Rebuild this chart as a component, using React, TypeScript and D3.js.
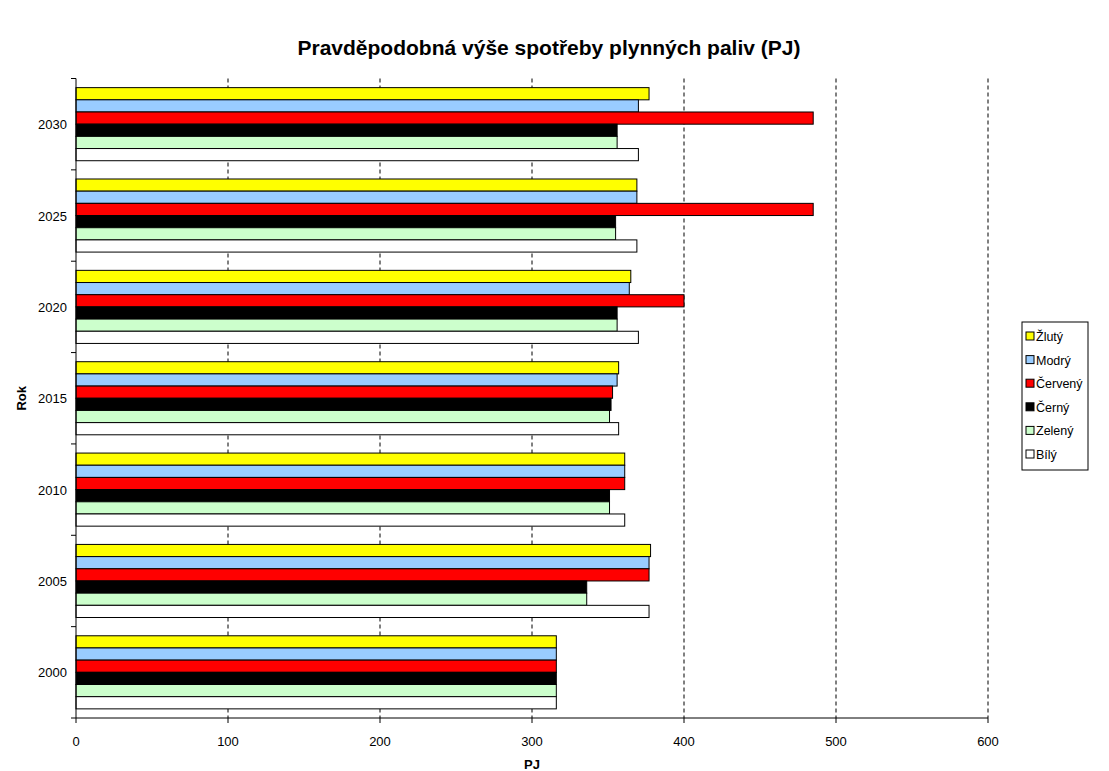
import React from 'react';
import * as d3 from 'd3';

const years = ['2000', '2005', '2010', '2015', '2020', '2025', '2030'];
const seriesNames = ['Žlutý', 'Modrý', 'Červený', 'Černý', 'Zelený', 'Bílý'];
const seriesColors = ['#ffff00', '#99ccff', '#ff0000', '#000000', '#ccffcc', '#ffffff'];

// values per series, one per year (2000 .. 2030)
const zluty = [316, 378, 361, 357, 365, 369, 377];
const modry = [316, 377, 361, 356, 364, 369, 370];
const cerveny = [316, 377, 361, 353, 400, 485, 485];
const cerny = [316, 336, 351, 352, 356, 355, 356];
const zeleny = [316, 336, 351, 351, 356, 355, 356];
const bily = [316, 377, 361, 357, 370, 369, 370];

const xTicks = [0, 100, 200, 300, 400, 500, 600];

const W = 1109;
const H = 771;
const font = '"Liberation Sans", Arial, sans-serif';

const App: React.FC = () => {
  const seriesValues = [zluty, modry, cerveny, cerny, zeleny, bily];

  const plotLeft = 76;
  const plotRight = 988;
  const plotTop = 78.5;
  const plotBottom = 718;

  const x = d3.scaleLinear().domain([0, 600]).range([plotLeft, plotRight]);

  // 2000 at the bottom, 2030 on top
  const y = d3.scaleBand<string>()
    .domain([...years].reverse())
    .range([plotTop, plotBottom])
    .paddingInner(0)
    .paddingOuter(0);

  const bandH = y.bandwidth();
  const barH = bandH / 7.5;
  const groupPad = (bandH - barH * 6) / 2;

  const boundaries = d3.range(years.length + 1).map(i => plotTop + i * bandH);

  const legendX = 1022;
  const legendY = 322;
  const legendStep = 23.6;

  return (
    <svg width={W} height={H} style={{ position: 'absolute', left: 0, top: 0, background: '#fff' }}
      fontFamily={font}>
      <text x={549} y={55} textAnchor="middle" fontSize={21} fontWeight="bold">
        Pravděpodobná výše spotřeby plynných paliv (PJ)
      </text>

      {/* gridlines */}
      {xTicks.slice(1).map(t => (
        <line key={'g' + t} x1={x(t)} x2={x(t)} y1={plotTop} y2={plotBottom}
          stroke="#000" strokeWidth={1} strokeDasharray="4,3" />
      ))}

      {/* bars */}
      {years.map((yr, yi) => (
        <g key={yr}>
          {seriesValues.map((vals, si) => (
            <rect key={si}
              x={x(0)}
              y={(y(yr) as number) + groupPad + si * barH}
              width={x(vals[yi]) - x(0)}
              height={barH}
              fill={seriesColors[si]}
              stroke="#000"
              strokeWidth={1} />
          ))}
        </g>
      ))}

      {/* axes */}
      <line x1={plotLeft} x2={plotLeft} y1={plotTop} y2={plotBottom} stroke="#000" />
      <line x1={plotLeft} x2={plotRight} y1={plotBottom} y2={plotBottom} stroke="#000" />
      {boundaries.map((b, i) => (
        <line key={'yt' + i} x1={plotLeft - 5} x2={plotLeft} y1={b} y2={b} stroke="#000" />
      ))}
      {xTicks.map(t => (
        <line key={'xt' + t} x1={x(t)} x2={x(t)} y1={plotBottom} y2={plotBottom + 5} stroke="#000" />
      ))}

      {years.map(yr => (
        <text key={'yl' + yr} x={plotLeft - 9} y={(y(yr) as number) + bandH / 2 + 5}
          textAnchor="end" fontSize={13}>{yr}</text>
      ))}
      {xTicks.map(t => (
        <text key={'xl' + t} x={x(t)} y={plotBottom + 28} textAnchor="middle" fontSize={13}>{t}</text>
      ))}

      <text x={(plotLeft + plotRight) / 2} y={769} textAnchor="middle" fontSize={13} fontWeight="bold">PJ</text>
      <text transform={`translate(26, ${(plotTop + plotBottom) / 2}) rotate(-90)`}
        textAnchor="middle" fontSize={13} fontWeight="bold">Rok</text>

      {/* legend */}
      <rect x={legendX} y={legendY} width={66} height={148} fill="#fff" stroke="#000" />
      {seriesNames.map((name, i) => (
        <g key={'lg' + i} transform={`translate(${legendX + 4}, ${legendY + 14 + i * legendStep})`}>
          <rect x={0} y={-4} width={8} height={8} fill={seriesColors[i]} stroke="#000" />
          <text x={10} y={5} fontSize={12.5}>{name}</text>
        </g>
      ))}
    </svg>
  );
};

export default App;
